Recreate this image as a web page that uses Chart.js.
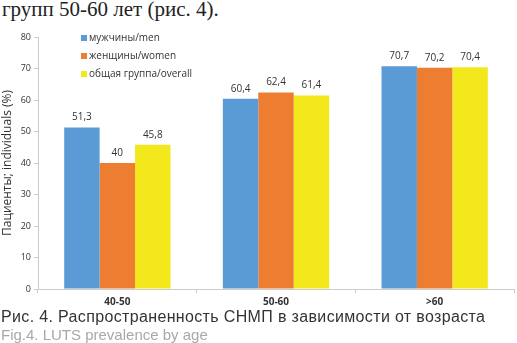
<!DOCTYPE html>
<html>
<head>
<meta charset="utf-8">
<script src="https://cdn.jsdelivr.net/npm/chart.js@4.4.0/dist/chart.umd.min.js"></script>
<style>
  body { margin: 0; background: #fff; width: 517px; height: 343px; overflow: hidden; position: relative; }
  #top { position: absolute; left: 2px; top: -3px; font-family: "Liberation Serif", serif; font-size: 21px; color: #222; white-space: nowrap; }
  #box { position: absolute; left: 0; top: 26px; width: 517px; height: 283px; }
  #cap1 { position: absolute; left: 1px; top: 308px; font-family: "Liberation Sans", sans-serif; font-size: 16px; letter-spacing: 0.35px; color: #333; white-space: nowrap; }
  #cap2 { position: absolute; left: 1px; top: 326px; font-family: "Liberation Sans", sans-serif; font-size: 15px; color: #a8a8a8; white-space: nowrap; }
</style>
</head>
<body>
<div id="top">групп 50-60 лет (рис. 4).</div>
<div id="box"><canvas id="myChart"></canvas></div>
<div id="cap1">Рис. 4. Распространенность СНМП в зависимости от возраста</div>
<div id="cap2">Fig.4. LUTS prevalence by age</div>
<script>
const ageGroups = ['40-50', '50-60', '>60'];
const seriesNames = ['мужчины/men', 'женщины/women', 'общая группа/overall'];
const menValues = [51.3, 60.4, 70.7];
const womenValues = [40, 62.4, 70.2];
const overallValues = [45.8, 61.4, 70.4];
const yTicks = [0, 10, 20, 30, 40, 50, 60, 70, 80];

const colors = ['#5b9bd5', '#ed7d31', '#f2e81c'];
const fontFam = '"Open Sans", sans-serif';

// value labels above bars
const valueLabels = {
  id: 'valueLabels',
  afterDatasetsDraw(chart) {
    const ctx = chart.ctx;
    ctx.save();
    ctx.font = '10px ' + fontFam;
    ctx.fillStyle = '#333';
    ctx.textAlign = 'center';
    ctx.textBaseline = 'bottom';
    chart.data.datasets.forEach((ds, i) => {
      chart.getDatasetMeta(i).data.forEach((bar, j) => {
        ctx.fillText(String(ds.data[j]).replace('.', ','), bar.x, bar.y - 5);
      });
    });
    ctx.restore();
  }
};

// legend inside the plot, top-left
const insideLegend = {
  id: 'insideLegend',
  afterDraw(chart) {
    const ctx = chart.ctx;
    const a = chart.chartArea;
    ctx.save();
    ctx.font = '10px ' + fontFam;
    ctx.textBaseline = 'middle';
    chart.data.datasets.forEach((ds, i) => {
      const y = a.top + 1 + i * 18;
      ctx.fillStyle = ds.backgroundColor;
      ctx.fillRect(a.left + 43, y - 3, 6, 6);
      ctx.fillStyle = '#333';
      ctx.fillText(ds.label, a.left + 51, y);
    });
    ctx.restore();
  }
};

new Chart(document.getElementById('myChart').getContext('2d'), {
  type: 'bar',
  data: {
    labels: ageGroups,
    datasets: [
      { label: seriesNames[0], data: menValues, backgroundColor: colors[0] },
      { label: seriesNames[1], data: womenValues, backgroundColor: colors[1] },
      { label: seriesNames[2], data: overallValues, backgroundColor: colors[2] }
    ]
  },
  options: {
    responsive: true,
    maintainAspectRatio: false,
    animation: false,
    layout: { padding: { top: 11, right: 3, left: 0, bottom: 0 } },
    datasets: { bar: { categoryPercentage: 0.67, barPercentage: 1.0 } },
    plugins: { legend: { display: false }, tooltip: { enabled: false } },
    scales: {
      x: {
        afterFit: axis => { axis.height = 20; },
        grid: { display: true, drawOnChartArea: false, color: '#ccc', tickLength: 4 },
        border: { color: '#ccc' },
        ticks: { color: '#333', font: { family: fontFam, size: 10, weight: 'bold' }, padding: 3 }
      },
      y: {
        min: 0,
        max: 80,
        afterFit: axis => { axis.width = 38; },
        afterBuildTicks: axis => { axis.ticks = yTicks.map(v => ({ value: v })); },
        grid: { display: true, drawOnChartArea: false, color: '#ccc', tickLength: 4 },
        border: { color: '#ccc' },
        ticks: { color: '#333', font: { family: fontFam, size: 9 }, padding: 3 },
        title: { display: true, text: 'Пациенты; individuals (%)', color: '#333', font: { family: fontFam, size: 12 }, padding: 0 }
      }
    }
  },
  plugins: [valueLabels, insideLegend]
});
</script>
</body>
</html>
